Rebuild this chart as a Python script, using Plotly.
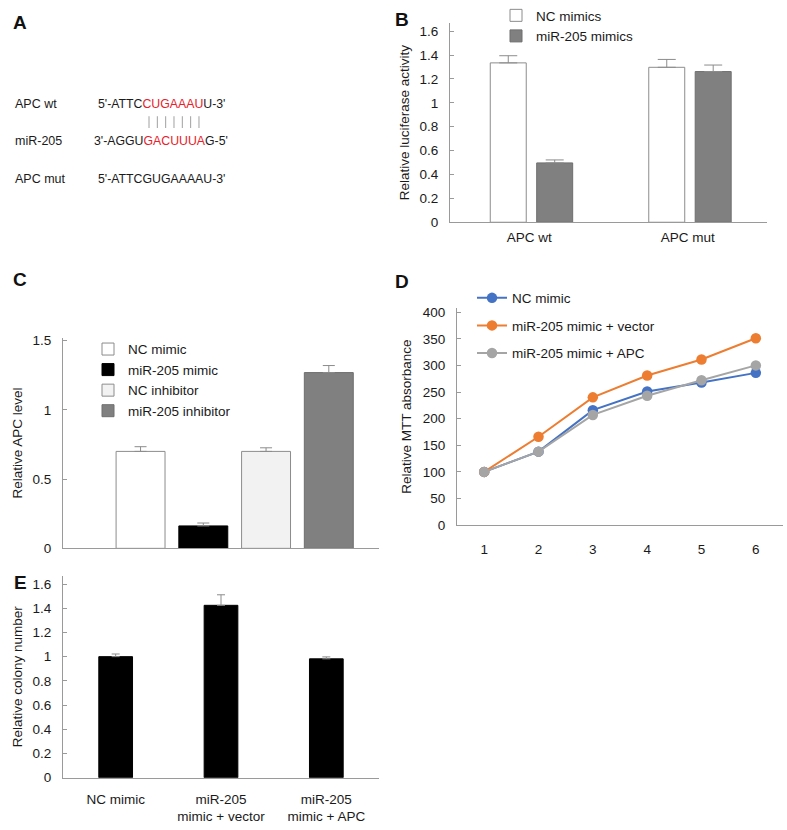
import plotly.graph_objects as go

W, H = 787, 830
FONT = "Liberation Sans"
AXIS_COLOR = "#9a9a9a"
TEXT_COLOR = "#1a1a1a"

# ---------------- data ----------------
# Panel B: luciferase reporter
b_categories = ["APC wt", "APC mut"]
b_nc_mimics = [1.335, 1.298]
b_nc_err = [0.060, 0.066]
b_mir_mimics = [0.497, 1.262]
b_mir_err = [0.025, 0.055]

# Panel C: relative APC level
c_categories = ["NC mimic", "miR-205 mimic", "NC inhibitor", "miR-205 inhibitor"]
c_values = [0.700, 0.162, 0.700, 1.269]
c_err = [0.034, 0.021, 0.026, 0.051]

# Panel D: MTT assay
d_days = [1, 2, 3, 4, 5, 6]
d_nc_mimic = [100, 138, 216, 251, 268, 286]
d_mir_vector = [100, 166, 240, 281, 311, 351]
d_mir_apc = [100, 138, 207, 243, 272, 300]

# Panel E: colony formation
e_categories = ["NC mimic", "miR-205<br>mimic + vector", "miR-205<br>mimic + APC"]
e_values = [1.000, 1.424, 0.982]
e_err = [0.022, 0.087, 0.016]

# Panel A: sequence alignment text
a_labels = ["APC wt", "miR-205", "APC mut"]
a_seqs = [
    "5'-ATTC<span style='color:#e8202a'>CUGAAAU</span>U-3'",
    "3'-AGGU<span style='color:#e8202a'>GACUUUA</span>G-5'",
    "5'-ATTCGUGAAAAU-3'",
]
a_pairs = 7  # number of base-pair ticks between APC wt and miR-205


def px(x):
    return x / W


def py(y):
    return 1 - y / H


fig = go.Figure()

err_style = dict(color="#8c8c8c", thickness=1)

# ---------------- Panel B ----------------
fig.add_trace(go.Bar(
    x=b_categories, y=b_nc_mimics, name="NC mimics",
    marker=dict(color="white", line=dict(color="#8c8c8c", width=1)),
    width=0.227, offset=-0.246,
    error_y=dict(type="data", array=b_nc_err, arrayminus=[0] * len(b_nc_err),
                 symmetric=False, width=9, **err_style),
    xaxis="x", yaxis="y", legend="legend",
))
fig.add_trace(go.Bar(
    x=b_categories, y=b_mir_mimics, name="miR-205 mimics",
    marker=dict(color="#808080", line=dict(color="#6e6e6e", width=1)),
    width=0.227, offset=0.047,
    error_y=dict(type="data", array=b_mir_err, arrayminus=[0] * len(b_mir_err),
                 symmetric=False, width=9, **err_style),
    xaxis="x", yaxis="y", legend="legend",
))

# ---------------- Panel C ----------------
c_fills = ["white", "black", "#f2f2f2", "#808080"]
c_lines = ["#8c8c8c", "black", "#8c8c8c", "#6e6e6e"]
for cat, val, err, fc, lc in zip(c_categories, c_values, c_err, c_fills, c_lines):
    fig.add_trace(go.Bar(
        x=[cat], y=[val], name=cat,
        marker=dict(color=fc, line=dict(color=lc, width=1)),
        width=0.78,
        error_y=dict(type="data", array=[err], arrayminus=[0], symmetric=False,
                     width=6, **err_style),
        xaxis="x2", yaxis="y2", legend="legend2",
    ))

# ---------------- Panel D ----------------
d_series = [
    ("NC mimic", d_nc_mimic, "#4472c4"),
    ("miR-205 mimic + vector", d_mir_vector, "#ed7d31"),
    ("miR-205 mimic + APC", d_mir_apc, "#a5a5a5"),
]
for name, vals, col in d_series:
    fig.add_trace(go.Scatter(
        x=d_days, y=vals, name=name, mode="lines+markers",
        line=dict(color=col, width=2),
        marker=dict(color=col, size=10.5),
        legendgroup=name,
        xaxis="x3", yaxis="y3", legend="legend3",
    ))

# ---------------- Panel E ----------------
fig.add_trace(go.Bar(
    x=e_categories, y=e_values, name="colony",
    marker=dict(color="black", line=dict(color="black", width=1)),
    width=0.32,
    error_y=dict(type="data", array=e_err, arrayminus=[0] * len(e_err),
                 symmetric=False, width=4, **err_style),
    showlegend=False,
    xaxis="x4", yaxis="y4",
))

tick_font = dict(family=FONT, size=13.5, color=TEXT_COLOR)
title_font = dict(family=FONT, size=13.5, color=TEXT_COLOR)
legend_font = dict(family=FONT, size=13.5, color=TEXT_COLOR)

common_x = dict(showline=True, linecolor=AXIS_COLOR, linewidth=1, ticks="",
                showgrid=False, zeroline=False, tickfont=tick_font, fixedrange=True)
common_y = dict(showline=True, linecolor=AXIS_COLOR, linewidth=1, ticks="inside",
                ticklen=4, tickcolor=AXIS_COLOR, showgrid=False, zeroline=False,
                tickfont=tick_font, ticklabelstandoff=8, fixedrange=True)

fig.update_layout(
    width=W, height=H,
    margin=dict(l=0, r=0, t=0, b=0),
    paper_bgcolor="white", plot_bgcolor="rgba(0,0,0,0)",
    barmode="overlay",
    font=dict(family=FONT, size=13.5, color=TEXT_COLOR),
    # Panel B axes
    xaxis=dict(domain=[px(450), px(767)], anchor="y", range=[-0.5, 1.5],
               type="category", ticklabelstandoff=3, **common_x),
    yaxis=dict(domain=[py(220.7), py(18.3)], anchor="x", range=[0, 1.669],
               tickvals=[0, 0.2, 0.4, 0.6, 0.8, 1, 1.2, 1.4, 1.6],
               title=dict(text="Relative luciferase activity", font=title_font, standoff=6),
               **common_y),
    # Panel C axes
    xaxis2=dict(domain=[px(63), px(379)], anchor="y2", range=[-1.236, 3.80],
                type="category", categoryorder="array", categoryarray=c_categories,
                showticklabels=False, **common_x),
    yaxis2=dict(domain=[py(552), py(338)], anchor="x2", range=[0, 1.521],
                tickvals=[0, 0.5, 1, 1.5],
                title=dict(text="Relative APC level", font=title_font, standoff=6),
                **common_y),
    # Panel D axes
    xaxis3=dict(domain=[px(457), px(783)], anchor="y3", range=[0.5, 6.5],
                tickvals=d_days, ticklabelstandoff=12, **common_x),
    yaxis3=dict(domain=[py(528.4), py(308)], anchor="x3", range=[0, 407.5],
                tickvals=[0, 50, 100, 150, 200, 250, 300, 350, 400],
                title=dict(text="Relative MTT absorbance", font=title_font, standoff=8),
                **common_y),
    # Panel E axes
    xaxis4=dict(domain=[px(63), px(379)], anchor="y4", range=[-0.5, 2.5],
                type="category", ticklabelstandoff=9, **common_x),
    yaxis4=dict(domain=[py(785), py(580)], anchor="x4", range=[0, 1.667],
                tickvals=[0, 0.2, 0.4, 0.6, 0.8, 1, 1.2, 1.4, 1.6],
                title=dict(text="Relative colony number", font=title_font, standoff=6),
                **common_y),
    legend=dict(x=px(496), y=py(-5), xanchor="left", yanchor="top",
                bgcolor="rgba(0,0,0,0)", font=legend_font, traceorder="normal"),
    legend2=dict(x=px(88), y=py(334), xanchor="left", yanchor="top",
                 bgcolor="rgba(0,0,0,0)", font=legend_font, traceorder="normal"),
    legend3=dict(x=px(472), y=py(282), xanchor="left", yanchor="top",
                 bgcolor="rgba(0,0,0,0)", font=legend_font,
                 traceorder="grouped", tracegroupgap=7),
)

annotations = []
# Panel letters
for letter, x, y in [("A", 20, 18), ("B", 402, 15), ("C", 20, 279), ("D", 402, 281), ("E", 20, 587)]:
    annotations.append(dict(text=f"<b>{letter}</b>", x=px(x), y=py(y), xref="paper", yref="paper",
                            xanchor="center", yanchor="middle", showarrow=False,
                            font=dict(family=FONT, size=19, color="#111111")))

# Panel A texts
for lab, seq, y, sx in zip(a_labels, a_seqs, [100.7, 138, 177], [96.3, 92.2, 96.3]):
    annotations.append(dict(text=lab, x=px(13), y=py(y), xref="paper", yref="paper",
                            xanchor="left", yanchor="middle", showarrow=False,
                            font=dict(family=FONT, size=12.5, color=TEXT_COLOR)))
    annotations.append(dict(text=seq, x=px(sx), y=py(y), xref="paper", yref="paper",
                            xanchor="left", yanchor="middle", showarrow=False,
                            font=dict(family=FONT, size=12.3, color=TEXT_COLOR)))

fig.update_layout(annotations=annotations)

# base-pairing ticks between the two sequences
shapes = []
for i in range(a_pairs):
    xx = 149 + i * 8.33
    shapes.append(dict(type="line", xref="paper", yref="paper",
                       x0=px(xx), x1=px(xx), y0=py(113), y1=py(125),
                       line=dict(color="#a0a0a0", width=1)))
fig.update_layout(shapes=shapes)

fig.write_html("out.html", config={"displayModeBar": False},
               post_script="document.body.style.margin='0';")
